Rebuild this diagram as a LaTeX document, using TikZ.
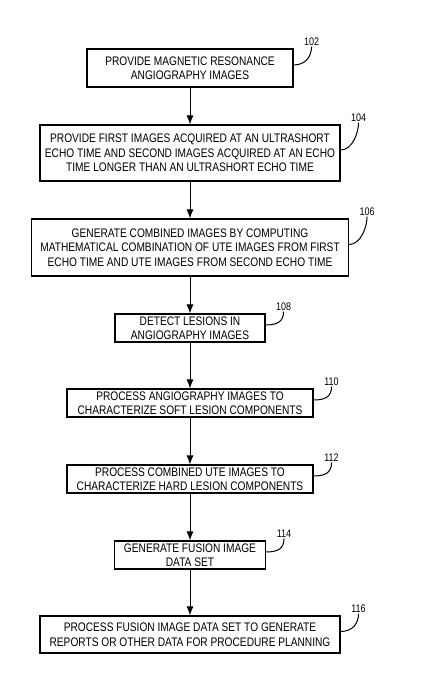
\documentclass[tikz,border=0pt]{standalone}
\usepackage{fontspec}
\setmainfont{Liberation Sans}
\newfontfamily\narrowfont[FakeStretch=0.82]{Liberation Sans}
\usepackage{tikz}
\usetikzlibrary{arrows.meta}
\tikzset{box/.style={draw=black,line width=1.1pt,fill=white,align=center,inner sep=0pt,
    font=\narrowfont\fontsize{12.4}{14.5}\selectfont}}
\tikzset{flow/.style={line width=1pt,-{Latex[length=9pt,width=7pt]}}}
\tikzset{refnum/.style={font=\narrowfont\fontsize{11}{12}\selectfont,inner sep=1pt}}

\begin{document}
\begin{tikzpicture}[x=1pt,y=-1pt]
\useasboundingbox (0,0) rectangle (423,680);

\node[box,minimum width=206pt,minimum height=38pt] (b102) at (190,68) {PROVIDE MAGNETIC RESONANCE\\ANGIOGRAPHY IMAGES};
\node[box,minimum width=300pt,minimum height=56pt] (b104) at (190,153) {PROVIDE FIRST IMAGES ACQUIRED AT AN ULTRASHORT\\ECHO TIME AND SECOND IMAGES ACQUIRED AT AN ECHO\\TIME LONGER THAN AN ULTRASHORT ECHO TIME};
\node[box,minimum width=317pt,minimum height=57pt] (b106) at (190,247.5) {GENERATE COMBINED IMAGES BY COMPUTING\\MATHEMATICAL COMBINATION OF UTE IMAGES FROM FIRST\\ECHO TIME AND UTE IMAGES FROM SECOND ECHO TIME};
\node[box,minimum width=150pt,minimum height=28pt] (b108) at (190,328) {DETECT LESIONS IN\\ANGIOGRAPHY IMAGES};
\node[box,minimum width=246pt,minimum height=28pt] (b110) at (190,403) {PROCESS ANGIOGRAPHY IMAGES TO\\CHARACTERIZE SOFT LESION COMPONENTS};
\node[box,minimum width=246pt,minimum height=28pt] (b112) at (190,479) {PROCESS COMBINED UTE IMAGES TO\\CHARACTERIZE HARD LESION COMPONENTS};
\node[box,minimum width=151pt,minimum height=28pt] (b114) at (190,555) {GENERATE FUSION IMAGE\\DATA SET};
\node[box,minimum width=300pt,minimum height=37pt] (b116) at (190,634.5) {PROCESS FUSION IMAGE DATA SET TO GENERATE\\REPORTS OR OTHER DATA FOR PROCEDURE PLANNING};

% arrows between steps
\draw[flow] (b102) -- (b104);
\draw[flow] (b104) -- (b106);
\draw[flow] (b106) -- (b108);
\draw[flow] (b108) -- (b110);
\draw[flow] (b110) -- (b112);
\draw[flow] (b112) -- (b114);
\draw[flow] (b114) -- (b116);

% reference numbers
\foreach \n in {102,104,106,108,110,112,114,116}
         {
           \node[refnum] (l\n) at ([shift={(18pt,7pt)}]b\n.north east) {\n};
           \draw[line width=1pt] ([yshift=3pt]b\n.east) .. controls +(12,0) and +(0,10) .. (l\n.south);
         }

\end{tikzpicture}
\end{document}
